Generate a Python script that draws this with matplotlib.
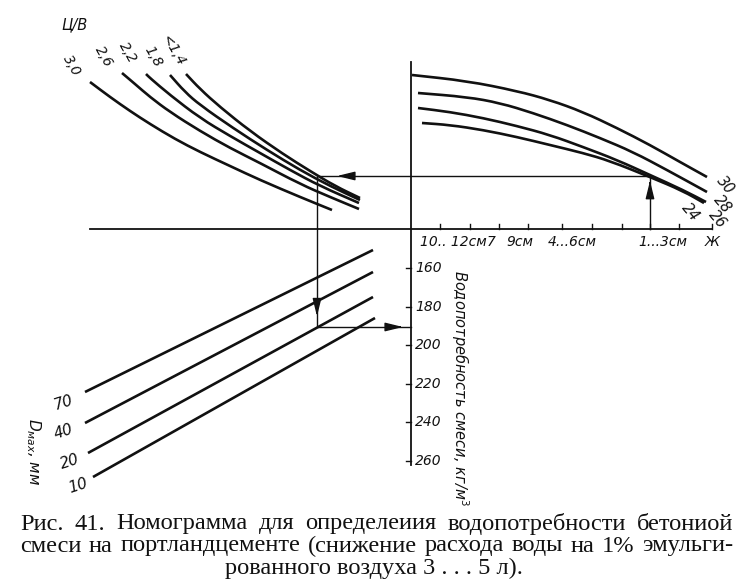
import matplotlib
matplotlib.use("Agg")
import matplotlib.pyplot as plt
from matplotlib.path import Path
from matplotlib.patches import PathPatch

# ---------------- data (in picture pixel units) -------------
# Upper-left quadrant: cement/water ratio curves
cw_labels = ["3,0", "2,6", "2,2", "1,8", "<1,4"]
cw_label_pos = [(72, 66), (104, 57), (128, 53), (153, 57), (173, 51)]
cw_x = [
    [90, 110, 130, 150, 175, 200, 230, 260, 300, 332],
    [122, 135, 150, 170, 200, 230, 260, 300, 330, 359],
    [146, 150, 170, 200, 230, 260, 290, 320, 359],
    [170, 185, 200, 233, 267, 300, 330, 360],
    [186, 200, 220, 250, 283, 310, 335, 360],
]
cw_y = [
    [82, 97, 111, 124, 139, 152, 166, 180, 197, 210],
    [73, 84, 97, 112, 131, 148, 163, 184, 197, 209],
    [74, 78, 95, 118, 136, 153, 170, 186, 203],
    [75, 92, 105, 128, 150, 170, 186, 200],
    [74, 89, 107, 131, 154, 171, 186, 198],
]

# Upper-right quadrant: water-demand curves by cement type
wd_labels = ["30", "28", "26", "24"]
wd_label_pos = [(725, 185), (722, 204), (717, 219), (690, 212)]
wd_x = [
    [412, 467, 517, 550, 583, 617, 650, 680, 707],
    [418, 467, 500, 533, 567, 600, 633, 667, 707],
    [418, 450, 483, 517, 550, 583, 617, 650, 683, 706],
    [422, 450, 483, 517, 550, 583, 610, 650, 683, 704],
]
wd_y = [
    [75, 81, 91, 100, 112, 128, 145, 162, 177],
    [93, 97, 103, 113, 125, 138, 152, 170, 192],
    [108, 112, 118, 126, 135, 147, 160, 175, 190, 202],
    [123, 125, 130, 137, 145, 153, 161, 177, 191, 203],
]

# Workability scale along horizontal axis
work_ticks = [440, 470, 499, 528, 562, 592, 622, 650, 679, 712]
work_labels = ["10.. 12см", "7", "9см", "4...6см", "1...3см", "Ж"]
work_label_x = [453, 491, 520, 572, 663, 712]

# Lower-left quadrant: max aggregate size lines
dmax_labels = ["70", "40", "20", "10"]
dmax_label_pos = [(63, 403), (64, 432), (70, 462), (78, 486)]
dmax_x = [[85, 373], [85, 373], [88, 373], [93, 375]]
dmax_y = [[392, 250], [423, 272], [453, 297], [477, 318]]

# Water demand scale (kg/m3)
demand_values = [160, 180, 200, 220, 240, 260]
demand_y0, demand_step = 268.0, 1.93   # pixel position of 160 and px per unit

# Example key path and where its arrowheads sit (fraction along each segment)
key_x = [650, 650, 317, 317, 411]
key_y = [229, 176, 176, 327, 327]
key_arrow_frac = [0.91, 0.94, 0.93, 0.915]

caption_lines = [
    "Рис. 41. Номограмма для определеиия водопотребности бетониой",
    "смеси на портландцементе (снижение расхода воды на 1% эмульги-",
    "рованного воздуха 3 . . . 5 л).",
]

# ---------------- figure -------------
W, H = 746, 587
fig = plt.figure(figsize=(W / 100, H / 100), dpi=100)
ax = fig.add_axes([0, 0, 1, 1])
ax.set_xlim(0, W)
ax.set_ylim(H, 0)
ax.axis("off")

ink = "#111111"
hand = dict(family="DejaVu Sans", style="italic", color=ink)


def smooth_curve(xs, ys, lw=1.9):
    """Draw a smooth curve through the read points (quadratic B-spline path)."""
    pts = list(zip(xs, ys))
    verts = [pts[0]]
    codes = [Path.MOVETO]
    mids = [((pts[i][0] + pts[i + 1][0]) / 2, (pts[i][1] + pts[i + 1][1]) / 2)
            for i in range(len(pts) - 1)]
    verts.append(mids[0]); codes.append(Path.LINETO)
    for i in range(1, len(pts) - 1):
        verts += [pts[i], mids[i]]
        codes += [Path.CURVE3, Path.CURVE3]
    verts.append(pts[-1]); codes.append(Path.LINETO)
    ax.add_patch(PathPatch(Path(verts, codes), fill=False, edgecolor=ink, lw=lw,
                           capstyle="butt", joinstyle="round"))


# axes lines
axis_x, axis_y = 411, 229
ax.plot([90, 712], [axis_y, axis_y], color=ink, lw=1.3)
ax.plot([axis_x, axis_x], [62, 465], color=ink, lw=1.3)

# workability ticks and labels
for t in work_ticks:
    ax.plot([t, t], [axis_y, axis_y - 5], color=ink, lw=1.0)
for lab, x in zip(work_labels, work_label_x):
    ax.text(x, 242, lab, ha="center", va="center", fontsize=10, **hand)

# water demand ticks
for v in demand_values:
    y = demand_y0 + (v - 160) * demand_step
    ax.plot([axis_x - 5, axis_x], [y, y], color=ink, lw=1.0)
    ax.text(axis_x + 4, y, str(v), ha="left", va="center", fontsize=10, **hand)
ax.text(460, 388, "Водопотребность смеси, кг/м$^3$", rotation=-90,
        ha="center", va="center", fontsize=10.5, **hand)

# C/W curves
for xs, ys in zip(cw_x, cw_y):
    smooth_curve(xs, ys)
for lab, (x, y) in zip(cw_labels, cw_label_pos):
    ax.text(x, y, lab, rotation=-60, ha="center", va="center", fontsize=10, **hand)
ax.text(75, 25, "Ц/В", ha="center", va="center", fontsize=10.5, **hand)

# water demand curves
for xs, ys in zip(wd_x, wd_y):
    smooth_curve(xs, ys)
for lab, (x, y) in zip(wd_labels, wd_label_pos):
    ax.text(x, y, lab, rotation=-50, ha="center", va="center", fontsize=10.5, **hand)

# Dmax lines
for xs, ys in zip(dmax_x, dmax_y):
    ax.plot(xs, ys, color=ink, lw=1.9, solid_capstyle="butt")
for lab, (x, y) in zip(dmax_labels, dmax_label_pos):
    ax.text(x, y, lab, rotation=18, ha="center", va="center", fontsize=11, **hand)
ax.text(33, 452, "$D_{мах}$, мм", rotation=-90, ha="center", va="center",
        fontsize=11, **hand)

# key path with arrowheads
ax.plot(key_x, key_y, color=ink, lw=1.0)
arrow_kw = dict(arrowstyle="-|>,head_length=0.9,head_width=0.22", color=ink,
                lw=1.0, shrinkA=0, shrinkB=0, mutation_scale=12)
for i, f in enumerate(key_arrow_frac):
    x0, y0, x1, y1 = key_x[i], key_y[i], key_x[i + 1], key_y[i + 1]
    tip = (x0 + (x1 - x0) * f, y0 + (y1 - y0) * f)
    back = (tip[0] - (x1 - x0) * 0.05, tip[1] - (y1 - y0) * 0.05)
    ax.annotate("", xy=tip, xytext=back, arrowprops=arrow_kw)

# caption (justified first two lines)
cap_font = dict(family="Liberation Serif", color=ink)
renderer = fig.canvas.get_renderer()
probe = ax.text(0, 0, caption_lines[2], fontsize=10, **cap_font)
wpx = probe.get_window_extent(renderer).width
probe.remove()
cap_size = 10 * 298 / wpx
left, right = 20, 733
cap_y = [524, 546, 568]
for li, line in enumerate(caption_lines[:2]):
    words = line.split(" ")
    widths = []
    for w in words:
        t = ax.text(0, 0, w, fontsize=cap_size, **cap_font)
        widths.append(t.get_window_extent(renderer).width)
        t.remove()
    gap = (right - left - sum(widths)) / (len(words) - 1)
    x = left
    for w, wd in zip(words, widths):
        ax.text(x, cap_y[li], w, fontsize=cap_size, ha="left", va="center", **cap_font)
        x += wd + gap
ax.text(374, cap_y[2], caption_lines[2], fontsize=cap_size, ha="center", va="center",
        **cap_font)

fig.savefig("out.png", dpi=100, facecolor="white")
